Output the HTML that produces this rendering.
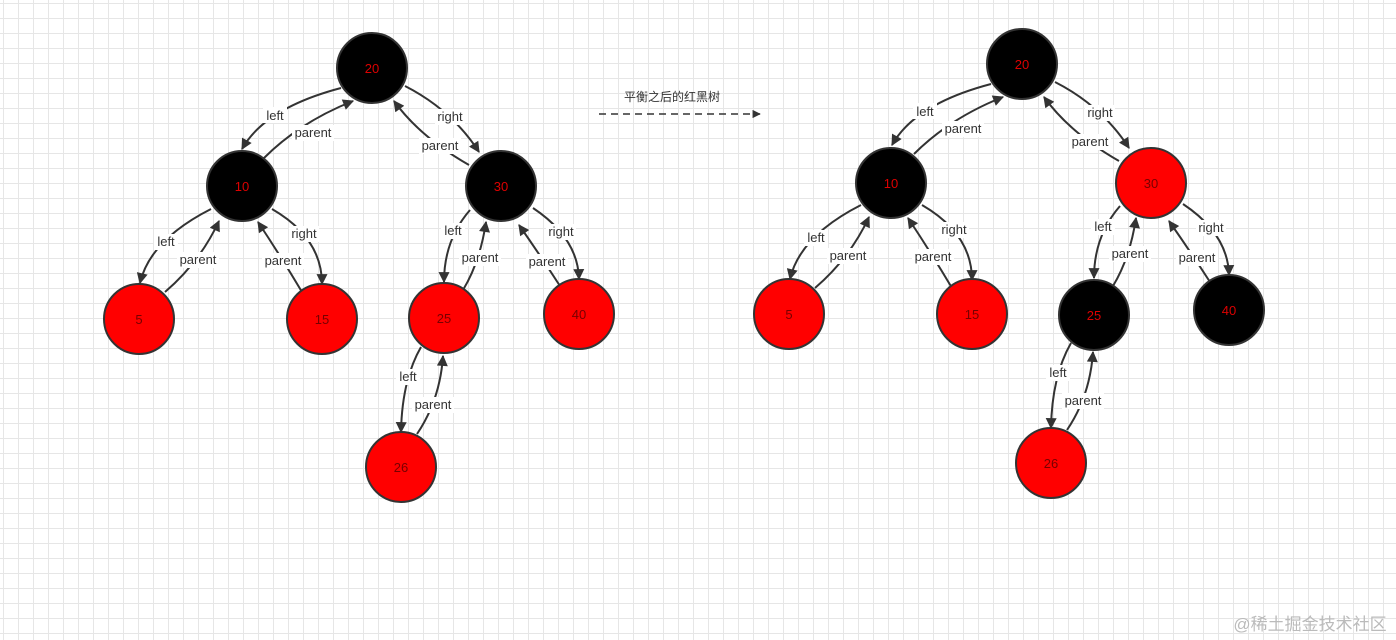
<!DOCTYPE html>
<html><head><meta charset="utf-8"><style>
html,body{margin:0;padding:0;background:#fff;}
body{width:1396px;height:640px;overflow:hidden;position:relative;
background-image:linear-gradient(#e6e6e6 1px,transparent 1px),linear-gradient(90deg,#e6e6e6 1px,transparent 1px);
background-size:15px 15px;background-position:3px 3px;}
svg{position:absolute;left:0;top:0;}
text{font-family:"Liberation Sans","Noto Sans CJK SC",sans-serif;}
</style></head><body>
<svg width="1396" height="640" xmlns="http://www.w3.org/2000/svg">
<defs>
<marker id="ar" viewBox="0 0 10 10" refX="9" refY="5" markerWidth="6" markerHeight="5.5" orient="auto"><path d="M0,0L10,5L0,10z" fill="#333"/></marker>
<g id="tree">
<g fill="none" stroke="#333" stroke-width="2" marker-end="url(#ar)">
<path d="M341,88 Q265,108 242,149"/>
<path d="M264,158 Q300,122 353,101"/>
<path d="M405,86 Q452,110 479,152"/>
<path d="M469,165 Q420,137 394,101"/>
<path d="M211,209 Q150,240 140,283"/>
<path d="M165,292 Q200,262 219,221"/>
<path d="M272,209 Q322,238 322,284"/>
<path d="M302,292 Q280,255 258,222"/>
<path d="M470,210 Q444,240 444,282"/>
<path d="M463,290 Q480,262 486,222"/>
<path d="M533,208 Q578,238 579,279"/>
<path d="M560,286 Q540,255 519,225"/>
<path d="M421,347 Q402,380 401,432"/>
<path d="M417,434 Q440,400 443,356"/>
</g>
<g font-size="13" fill="#333" text-anchor="middle">
<rect x="263" y="107" width="24" height="16" fill="#fff"/><text x="275" y="120">left</text>
<rect x="292" y="125" width="42" height="16" fill="#fff"/><text x="313" y="137">parent</text>
<rect x="435" y="109" width="30" height="16" fill="#fff"/><text x="450" y="121">right</text>
<rect x="419" y="138" width="42" height="16" fill="#fff"/><text x="440" y="150">parent</text>
<rect x="154" y="234" width="24" height="16" fill="#fff"/><text x="166" y="246">left</text>
<rect x="177" y="252" width="42" height="16" fill="#fff"/><text x="198" y="264">parent</text>
<rect x="289" y="226" width="30" height="16" fill="#fff"/><text x="304" y="238">right</text>
<rect x="262" y="253" width="42" height="16" fill="#fff"/><text x="283" y="265">parent</text>
<rect x="441" y="223" width="24" height="16" fill="#fff"/><text x="453" y="235">left</text>
<rect x="459" y="250" width="42" height="16" fill="#fff"/><text x="480" y="262">parent</text>
<rect x="546" y="224" width="30" height="16" fill="#fff"/><text x="561" y="236">right</text>
<rect x="526" y="254" width="42" height="16" fill="#fff"/><text x="547" y="266">parent</text>
<rect x="396" y="369" width="24" height="16" fill="#fff"/><text x="408" y="381">left</text>
<rect x="412" y="397" width="42" height="16" fill="#fff"/><text x="433" y="409">parent</text>
</g>
</g>
</defs>
<use href="#tree"/>
<use href="#tree" transform="translate(650,-4)"/>
<g stroke="#333" stroke-width="2" font-size="13" text-anchor="middle">
<circle cx="372" cy="68" r="35" fill="#000"/><text x="372" y="73" fill="#d00" stroke="none">20</text>
<circle cx="242" cy="186" r="35" fill="#000"/><text x="242" y="191" fill="#d00" stroke="none">10</text>
<circle cx="501" cy="186" r="35" fill="#000"/><text x="501" y="191" fill="#d00" stroke="none">30</text>
<circle cx="139" cy="319" r="35" fill="#f00"/><text x="139" y="324" fill="#700" stroke="none">5</text>
<circle cx="322" cy="319" r="35" fill="#f00"/><text x="322" y="324" fill="#700" stroke="none">15</text>
<circle cx="444" cy="318" r="35" fill="#f00"/><text x="444" y="323" fill="#700" stroke="none">25</text>
<circle cx="579" cy="314" r="35" fill="#f00"/><text x="579" y="319" fill="#700" stroke="none">40</text>
<circle cx="401" cy="467" r="35" fill="#f00"/><text x="401" y="472" fill="#700" stroke="none">26</text>

<circle cx="1022" cy="64" r="35" fill="#000"/><text x="1022" y="69" fill="#d00" stroke="none">20</text>
<circle cx="891" cy="183" r="35" fill="#000"/><text x="891" y="188" fill="#d00" stroke="none">10</text>
<circle cx="1151" cy="183" r="35" fill="#f00"/><text x="1151" y="188" fill="#700" stroke="none">30</text>
<circle cx="789" cy="314" r="35" fill="#f00"/><text x="789" y="319" fill="#700" stroke="none">5</text>
<circle cx="972" cy="314" r="35" fill="#f00"/><text x="972" y="319" fill="#700" stroke="none">15</text>
<circle cx="1094" cy="315" r="35" fill="#000"/><text x="1094" y="320" fill="#d00" stroke="none">25</text>
<circle cx="1229" cy="310" r="35" fill="#000"/><text x="1229" y="315" fill="#d00" stroke="none">40</text>
<circle cx="1051" cy="463" r="35" fill="#f00"/><text x="1051" y="468" fill="#700" stroke="none">26</text>
</g>
<text x="672" y="101" font-size="12" fill="#333" text-anchor="middle">平衡之后的红黑树</text>
<line x1="599" y1="114" x2="760" y2="114" stroke="#333" stroke-width="1.5" stroke-dasharray="7,5" marker-end="url(#ar)"/>
<text x="1310" y="630" font-size="17" fill="#bbb" text-anchor="middle">@稀土掘金技术社区</text>
</svg>
</body></html>
